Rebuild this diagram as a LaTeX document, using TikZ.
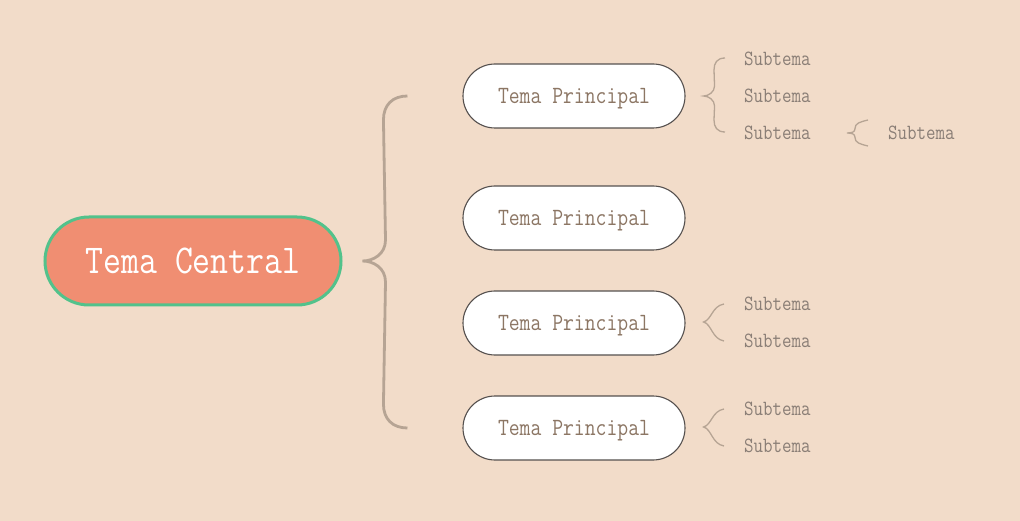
\documentclass[tikz,border=0pt]{standalone}
\usepackage{fontspec}
\setmonofont{Latin Modern Mono}[FakeStretch=0.85]
\usepackage{xcolor}
\usetikzlibrary{positioning,calc}

\definecolor{bgcolor}{RGB}{242,220,201}
\definecolor{centralfill}{RGB}{240,142,114}
\definecolor{centralline}{RGB}{82,194,139}
\definecolor{mainline}{RGB}{85,80,78}
\definecolor{maintext}{RGB}{140,118,100}
\definecolor{subtext}{RGB}{138,126,118}
\definecolor{bracecolor}{RGB}{182,164,148}

\begin{document}
\begin{tikzpicture}[
    x=1pt, y=-1pt,
    central/.style={rectangle, rounded corners=44pt, draw=centralline, line width=3pt, fill=centralfill,
        minimum width=296pt, minimum height=88pt, text height=25pt, text depth=0pt,
        text=white, font=\ttfamily\fontsize{41}{46}\selectfont},
    maintopic/.style={rectangle, rounded corners=32pt, draw=mainline, line width=1.1pt, fill=white,
        minimum width=222pt, minimum height=64pt, text height=15pt, text depth=0pt,
        text=maintext, font=\ttfamily\fontsize{24.8}{28}\selectfont},
    subtopic/.style={anchor=west, inner sep=0pt, text height=13pt, text depth=0pt,
        text=subtext, font=\ttfamily\fontsize{21.7}{25}\selectfont},
    bigbrace/.style={draw=bracecolor, line width=2.8pt},
    smallbrace/.style={draw=bracecolor, line width=1.3pt}
]

% background
\fill[bgcolor] (0,0) rectangle (1020,521);
\useasboundingbox (0,0) rectangle (1020,521);

% Central topic
\node[central] (central) at (193,261) {Tema Central};

% Main topics
\node[maintopic] (main1) at (574,96) {Tema Principal};
\node[maintopic] (main2) at (574,218) {Tema Principal};
\node[maintopic] (main3) at (574,323) {Tema Principal};
\node[maintopic] (main4) at (574,428) {Tema Principal};

% Subtopics
\node[subtopic] (sub11) at (744,59) {Subtema};
\node[subtopic] (sub12) at (744,96) {Subtema};
\node[subtopic] (sub13) at (744,133) {Subtema};
\node[subtopic] (sub131) at (888,133) {Subtema};
\node[subtopic] (sub31) at (744,304) {Subtema};
\node[subtopic] (sub32) at (744,341) {Subtema};
\node[subtopic] (sub41) at (744,409) {Subtema};
\node[subtopic] (sub42) at (744,446) {Subtema};

% Brace from central topic to main topics
\coordinate (tip0) at ($(central.east)+(20,0)$);
\coordinate (top0) at ($(main1.west)+(-55,0)$);
\coordinate (bot0) at ($(main4.west)+(-55,0)$);
\draw[bigbrace] (top0) .. controls +(-15,0) and +(0,-15) .. ($(top0)+(-24,24)$)
    -- ($(tip0)+(23,-21)$) .. controls +(0,14) and +(11,0) .. (tip0)
    .. controls +(11,0) and +(0,-14) .. ($(tip0)+(23,21)$)
    -- ($(bot0)+(-24,-24)$) .. controls +(0,15) and +(-15,0) .. (bot0);

% Brace from first main topic to its subtopics
\coordinate (tip1) at ($(main1.east)+(18,0)$);
\coordinate (top1) at ($(sub11.west)+(-19,-1)$);
\coordinate (bot1) at ($(sub13.west)+(-19,-1)$);
\draw[smallbrace] (top1) .. controls +(-8,0) and +(0,-7) .. ($(top1)+(-11,12)$)
    -- ($(tip1)+(11,-10)$) .. controls +(0,6) and +(5,0) .. (tip1)
    .. controls +(5,0) and +(0,-6) .. ($(tip1)+(11,10)$)
    -- ($(bot1)+(-11,-12)$) .. controls +(0,7) and +(-8,0) .. (bot1);

% Brace from subtopic to its subtopic
\coordinate (tip13) at ($(sub13.east)+(36,0)$);
\draw[smallbrace] ($(sub131.west)+(-20,-13)$) .. controls +(-8,2) and +(0,-6) .. ($(tip13)+(8,-4)$)
    .. controls +(0,3) and +(5,0) .. (tip13)
    .. controls +(5,0) and +(0,-3) .. ($(tip13)+(8,4)$)
    .. controls +(0,6) and +(-8,-2) .. ($(sub131.west)+(-20,13)$);

% Braces from main topics 3 and 4 to their subtopics
\coordinate (tip3) at ($(main3.east)+(18,-1)$);
\draw[smallbrace] ($(sub31.west)+(-20,0)$) .. controls +(-12,2) and +(8,-2) .. (tip3)
    .. controls +(8,2) and +(-12,-2) .. ($(sub32.west)+(-20,0)$);
\coordinate (tip4) at ($(main4.east)+(18,-1)$);
\draw[smallbrace] ($(sub41.west)+(-20,0)$) .. controls +(-12,2) and +(8,-2) .. (tip4)
    .. controls +(8,2) and +(-12,-2) .. ($(sub42.west)+(-20,0)$);

\end{tikzpicture}
\end{document}
